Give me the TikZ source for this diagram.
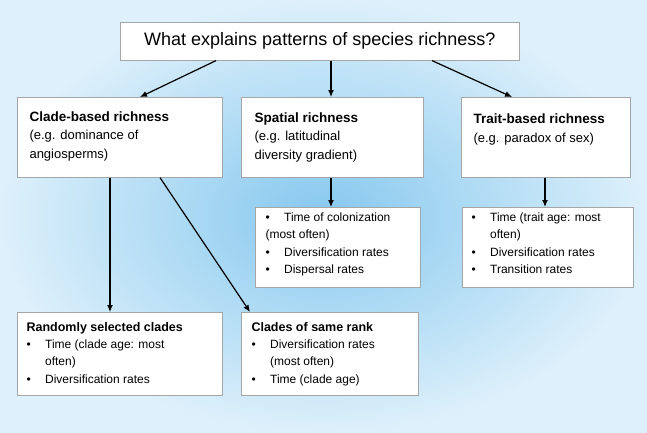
\documentclass[tikz,border=0pt]{standalone}
\usepackage{fontspec}
\setmainfont{Liberation Sans}
\usetikzlibrary{arrows.meta}
\begin{document}
\begin{tikzpicture}[x=1pt,y=-1pt,
  box/.style={draw=gray!70,fill=white,line width=0.6pt,inner sep=0pt},
  arr/.style={-{Latex[length=7pt,width=6pt]},line width=1.2pt,black},
  hd/.style={font=\fontsize{13.5}{15}\selectfont\bfseries},
  bd/.style={font=\fontsize{13}{19}\selectfont},
  ls/.style={font=\fontsize{12}{17.5}\selectfont,align=left,anchor=north west}]
\definecolor{cin}{HTML}{86C8EE}
\definecolor{cout}{HTML}{DDF0FB}
\useasboundingbox (0,0) rectangle (647,432);
\shade[inner color=cin,outer color=cout] (0,0) rectangle (647,432);
% title
\node[box,minimum width=399,minimum height=38,anchor=north west,font=\fontsize{18}{20}\selectfont] (t) at (120,22) {What explains patterns of species richness?};
% level 1
\node[box,minimum width=205,minimum height=80,anchor=north west] (c) at (17,97) {};
\node[hd,anchor=north west] at (26,108) {Clade-based richness};
\node[bd,anchor=north west,align=left] at (26,127) {(e.g. dominance of\\angiosperms)};
\node[box,minimum width=182,minimum height=80,anchor=north west] (s) at (241,97) {};
\node[hd,anchor=north west] at (251,109) {Spatial richness};
\node[bd,anchor=north west,align=left] at (251,128) {(e.g. latitudinal\\diversity gradient)};
\node[box,minimum width=169,minimum height=80,anchor=north west] (r) at (461,97) {};
\node[hd,anchor=north west] at (470,110) {Trait-based richness};
\node[bd,anchor=north west] at (470,130) {(e.g. paradox of sex)};
% level 2
\node[box,minimum width=165,minimum height=80,anchor=north west] (sl) at (255,207) {};
\node[ls] at (262,209) {\textbullet\hspace{1.2em}Time of colonization\\(most often)\\\textbullet\hspace{1.2em}Diversification rates\\\textbullet\hspace{1.2em}Dispersal rates};
\node[box,minimum width=171,minimum height=80,anchor=north west] (rl) at (462,207) {};
\node[ls] at (468,209) {\textbullet\hspace{1.2em}Time (trait age: most\\\phantom{\textbullet\hspace{1.2em}}often)\\\textbullet\hspace{1.2em}Diversification rates\\\textbullet\hspace{1.2em}Transition rates};
\node[box,minimum width=205,minimum height=83,anchor=north west] (cr) at (17,312) {};
\node[anchor=north west,font=\fontsize{12.5}{14}\selectfont\bfseries] at (23,319) {Randomly selected clades};
\node[ls] at (23,336) {\textbullet\hspace{1.2em}Time (clade age: most\\\phantom{\textbullet\hspace{1.2em}}often)\\\textbullet\hspace{1.2em}Diversification rates};
\node[box,minimum width=177,minimum height=83,anchor=north west] (cs) at (241,312) {};
\node[anchor=north west,font=\fontsize{12.5}{14}\selectfont\bfseries] at (248,319) {Clades of same rank};
\node[ls] at (248,336) {\textbullet\hspace{1.2em}Diversification rates\\\phantom{\textbullet\hspace{1.2em}}(most often)\\\textbullet\hspace{1.2em}Time (clade age)};
% arrows
\draw[arr] (t.south -| 216,0) -- (c.north -| 140,0);
\draw[arr] (t.south -| 331,0) -- (s.north -| 331,0);
\draw[arr] (t.south -| 432,0) -- (r.north -| 512,0);
\draw[arr] (s.south -| 331,0) -- (sl.north -| 331,0);
\draw[arr] (r.south -| 545,0) -- (rl.north -| 545,0);
\draw[arr] (c.south -| 110,0) -- (cr.north -| 110,0);
\draw[arr] (c.south -| 160,0) -- (cs.north -| 250,0);
\end{tikzpicture}
\end{document}
